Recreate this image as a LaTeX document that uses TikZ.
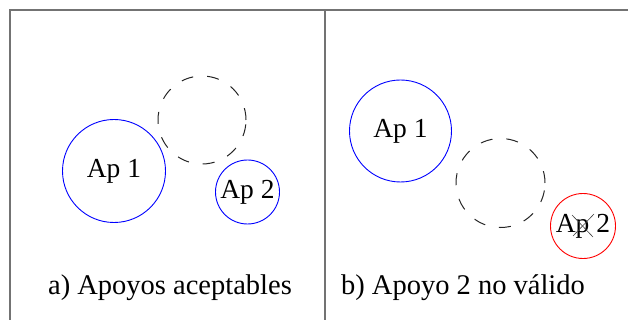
\documentclass[tikz,border=0pt]{standalone}
\usepackage{fontspec}
\setmainfont{Liberation Serif}
\begin{document}
\begin{tikzpicture}[x=1pt,y=-1pt,
  label font/.style={font=\fontsize{27.5}{30}\selectfont},
  support/.style={circle,draw=blue,line width=0.9pt,inner sep=0pt,label font},
  invalid/.style={circle,draw=red,line width=0.9pt,inner sep=0pt,label font},
  zone/.style={circle,draw=black!85,line width=1pt,inner sep=0pt,dash pattern=on 12pt off 14pt},
  frameline/.style={draw=black!55,line width=1.6pt},
  cross/.style={draw=black!75,line width=0.6pt},
  caption/.style={font=\fontsize{28.5}{31}\selectfont,anchor=base}]
\useasboundingbox (0,0) rectangle (628,320);

% outer frame (open on the right and at the bottom) and the divider
\coordinate (tl) at (10,10);
\coordinate (tr) at (628,10);
\coordinate (bl) at (10,320);
\coordinate (mt) at (325,10);
\coordinate (mb) at (325,320);
\draw[frameline] (bl) -- (tl) -- (tr);
\draw[frameline] (mt) -- (mb);

% a) both supports acceptable
\node[zone,minimum size=88pt] (za) at (202,120) {};
\node[support,minimum size=103pt] (a1) at (114,171) {Ap 1};
\node[support,minimum size=64pt] (a2) at (247.5,192) {Ap 2};
\node[caption] (ca) at (170,294) {a) Apoyos aceptables};

% b) support 2 not valid
\node[support,minimum size=102pt] (b1) at (400.5,131) {Ap 1};
\node[zone,minimum size=89pt] (zb) at (500.5,183) {};
\node[invalid,minimum size=65pt] (b2) at (583,226) {Ap 2};
\draw[cross] ([shift={(-11,-11)}]b2.center) -- ([shift={(10,11)}]b2.center);
\draw[cross] ([shift={(11,-12)}]b2.center) -- ([shift={(-10,10)}]b2.center);
\node[caption] (cb) at (463,294) {b) Apoyo 2 no válido};
\end{tikzpicture}
\end{document}
